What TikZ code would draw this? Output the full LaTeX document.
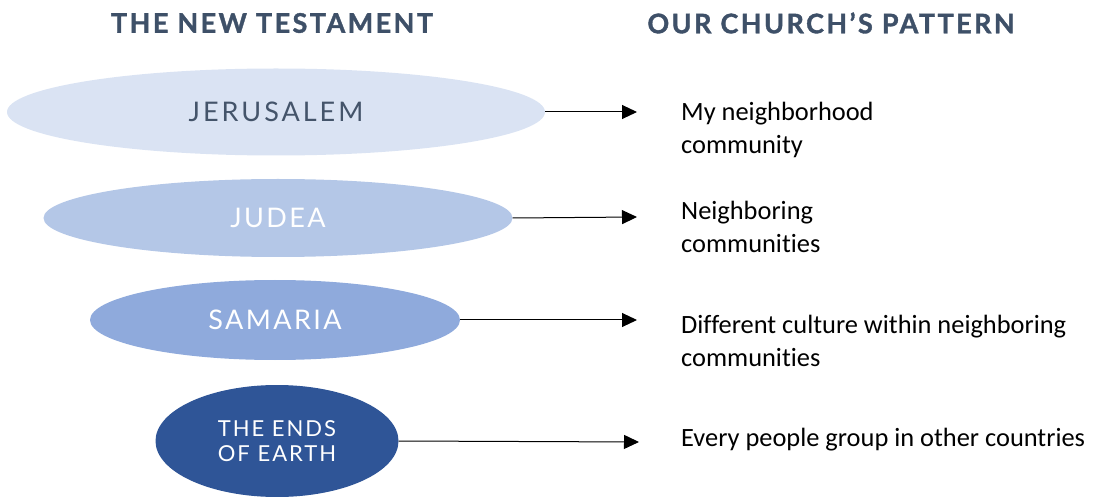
\documentclass[tikz,border=0pt]{standalone}
\usepackage{fontspec}
\setmainfont[Ligatures=NoCommon]{Carlito}
\newfontfamily\latohead[LetterSpace=9,FakeBold=1.3]{Lato Bold}
\newfontfamily\latoell[LetterSpace=9]{Lato}
\newfontfamily\latoellw[LetterSpace=11]{Lato}
\usetikzlibrary{shapes.geometric,arrows.meta}
\definecolor{headc}{HTML}{3E5068}
\definecolor{c1}{HTML}{DAE3F3}
\definecolor{c2}{HTML}{B4C7E7}
\definecolor{c3}{HTML}{8FAADC}
\definecolor{c4}{HTML}{2F5597}
\definecolor{txtdark}{HTML}{44546A}
\tikzset{
  ell/.style={ellipse, draw=none, inner sep=0pt, font=\latoell\fontsize{27}{25}\selectfont, align=center},
  head/.style={font=\latohead\fontsize{27}{29}\selectfont, text=headc},
  rtext/.style={anchor=west, align=left, font=\fontsize{26.4}{33}\selectfont, text=black, inner sep=0pt},
  conn/.style={-{Triangle[length=15pt,width=14pt]}, line width=1pt, black}
}
\begin{document}
\begin{tikzpicture}[x=1pt,y=-1pt]
\useasboundingbox (0,0) rectangle (1096,497);
\node[head] (h1) at (272,23) {THE NEW TESTAMENT};
\node[head] (h2) at (831,23) {OUR CHURCH’S PATTERN};

\node[ell, fill=c1, text=txtdark, minimum width=538pt, minimum height=87pt, font=\latoellw\fontsize{27}{25}\selectfont] (e1) at (276,112) {JERUSALEM};
\node[ell, fill=c2, text=white, minimum width=469pt, minimum height=78pt] (e2) at (278,218) {JUDEA};
\node[ell, fill=c3, text=white, minimum width=370pt, minimum height=80pt] (e3) at (275,320) {SAMARIA};
\node[ell, fill=c4, text=white, minimum width=243pt, minimum height=112pt, font=\latoell\fontsize{22}{25}\selectfont] (e4) at (277,441) {THE ENDS\\OF EARTH};

\coordinate (a1) at (637,112);
\coordinate (a2) at (637,217);
\coordinate (a3) at (637,320);
\coordinate (a4) at (639,442);
\draw[conn] (e1.east) -- (a1);
\draw[conn] (e2.east) -- (a2);
\draw[conn] (e3.east) -- (a3);
\draw[conn] (e4.east) -- (a4);

\node[rtext] (t1) at (681,130) {My neighborhood\\community};
\node[rtext] (t2) at (681,227) {Neighboring\\communities};
\node[rtext] (t3) at (681,341) {Different culture within neighboring\\communities};
\node[rtext] (t4) at (681,440) {Every people group in other countries};
\end{tikzpicture}
\end{document}
